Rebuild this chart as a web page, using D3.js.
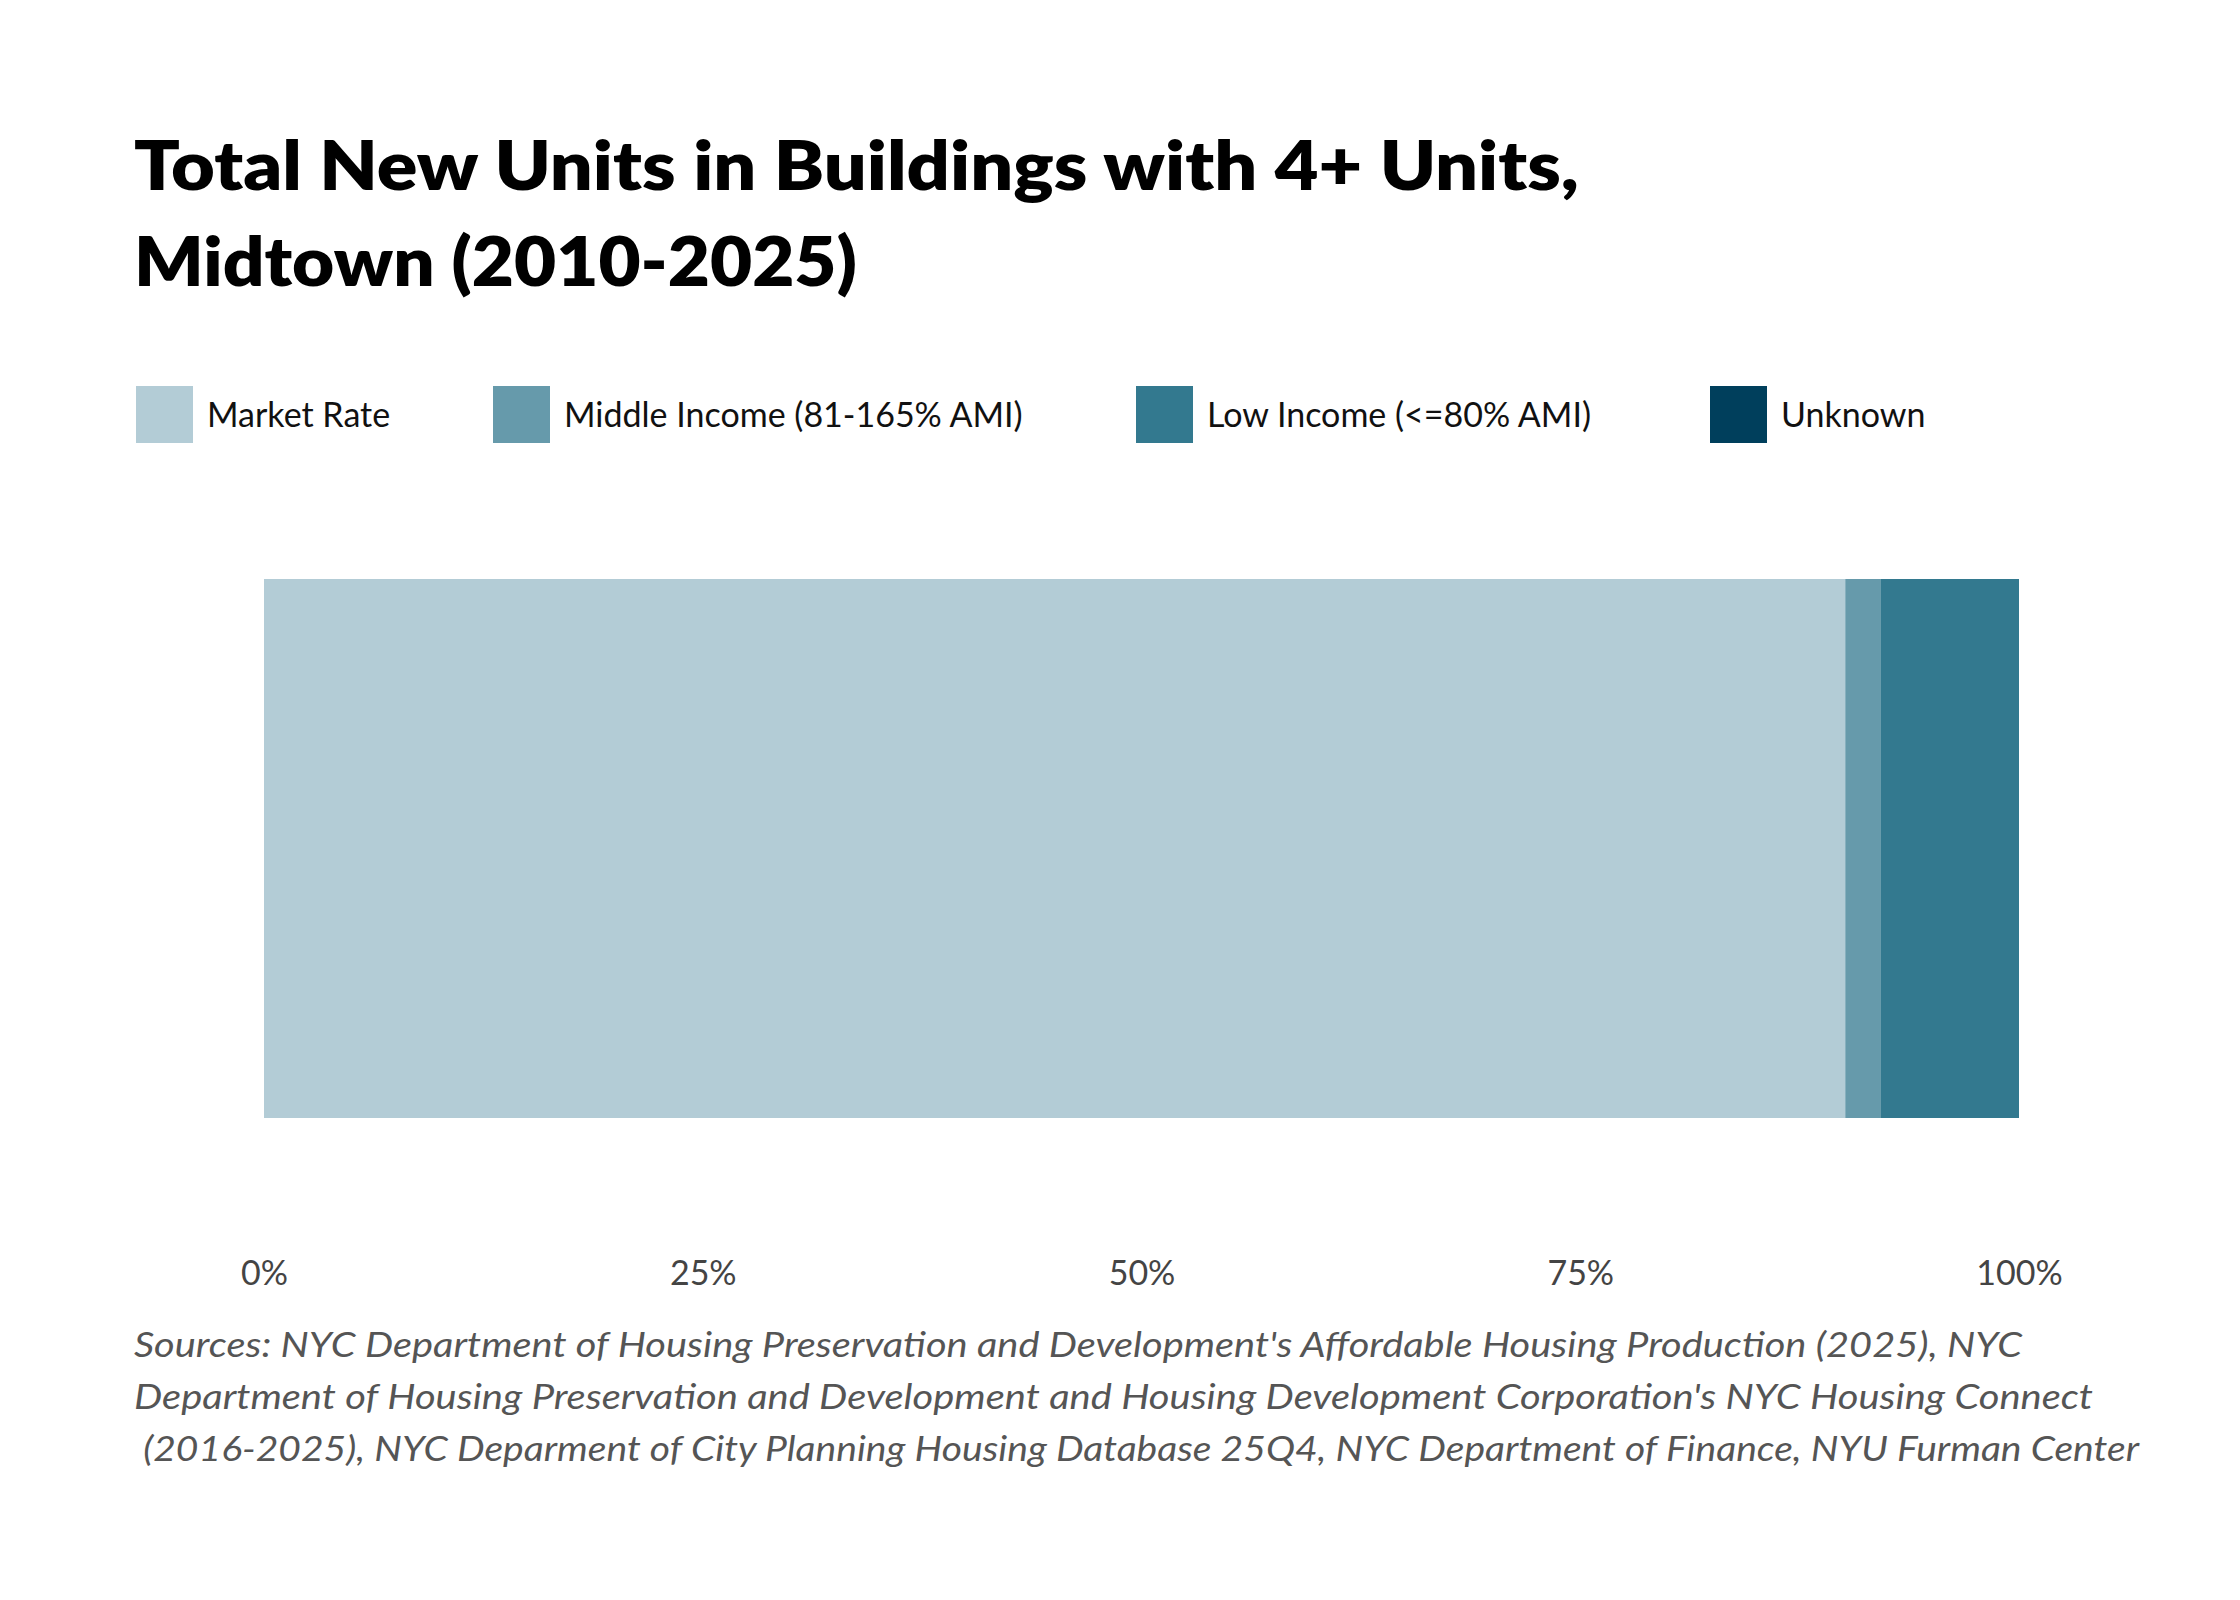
<!DOCTYPE html>
<html><head><meta charset="utf-8">
<script src="https://cdn.jsdelivr.net/npm/d3@7"></script>
<style>body{margin:0;background:#fff}svg{display:block}text{font-family:Lato,"Open Sans",sans-serif}</style>
</head><body><svg id="chart" width="2240" height="1600"></svg>
<script>
const categories = ["Market Rate", "Middle Income (81-165% AMI)", "Low Income (<=80% AMI)", "Unknown"];
const shares = [90.1, 2.0, 7.9, 0.0];
const colors = ["#b3ccd6", "#669aab", "#33798f", "#003f5c"];
const tickValues = [0, 25, 50, 75, 100];
const legendX = [136, 493, 1136, 1710];
const sources = [
  "Sources: NYC Department of Housing Preservation and Development's Affordable Housing Production (2025), NYC",
  "Department of Housing Preservation and Development and Housing Development Corporation's NYC Housing Connect",
  " (2016-2025), NYC Deparment of City Planning Housing Database 25Q4, NYC Department of Finance, NYU Furman Center"
];

const svg = d3.select("#chart");
svg.append("text").attr("x", 134).attr("y", 190).attr("font-size", 68).attr("font-weight", 800)
  .attr("textLength", 1445).attr("lengthAdjust", "spacingAndGlyphs").text("Total New Units in Buildings with 4+ Units,");
svg.append("text").attr("x", 134).attr("y", 286).attr("font-size", 68).attr("font-weight", 800)
  .attr("textLength", 723).attr("lengthAdjust", "spacingAndGlyphs").text("Midtown (2010-2025)");

const lg = svg.selectAll("g.lg").data(categories).enter().append("g").attr("class", "lg")
  .attr("transform", (d, i) => `translate(${legendX[i]},386)`);
lg.append("rect").attr("width", 57).attr("height", 57).attr("fill", (d, i) => colors[i]);
lg.append("text").attr("x", 71).attr("y", 41).attr("font-size", 34).attr("fill", "#111").text(d => d);

const x = d3.scaleLinear().domain([0, 100]).range([264, 2019]);
let acc = 0;
const segs = shares.map((v, i) => { const s = {x0: acc, x1: acc + v, c: colors[i]}; acc += v; return s; });
svg.selectAll("rect.seg").data(segs).enter().append("rect").attr("class", "seg")
  .attr("x", d => x(d.x0)).attr("width", d => x(d.x1) - x(d.x0))
  .attr("y", 579).attr("height", 539).attr("fill", d => d.c);

const ax = svg.append("g").attr("transform", "translate(0,1258)")
  .call(d3.axisBottom(x).tickValues(tickValues).tickFormat(d => d + "%").tickSize(0));
ax.select(".domain").remove();
ax.selectAll("text").attr("font-size", 34).attr("fill", "#444").attr("font-family", "Lato,sans-serif");

const ends = [[134, 2022], [134, 2093], [134, 2139]];
svg.selectAll("text.src").data(sources).enter().append("text").attr("class", "src")
  .attr("x", (d, i) => ends[i][0]).attr("y", (d, i) => 1357 + i * 52)
  .attr("font-size", 35).attr("font-style", "italic").attr("fill", "#555")
  .attr("textLength", (d, i) => ends[i][1] - ends[i][0]).attr("lengthAdjust", "spacingAndGlyphs")
  .attr("xml:space", "preserve").text(d => d);
</script></body></html>
